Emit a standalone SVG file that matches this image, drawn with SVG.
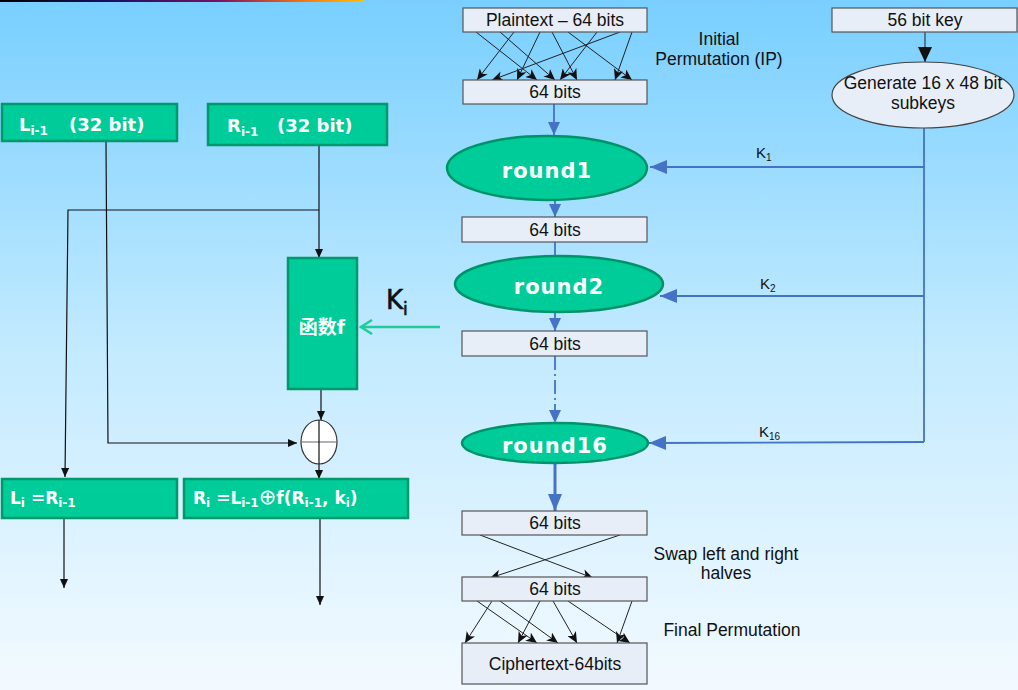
<svg xmlns="http://www.w3.org/2000/svg" width="1018" height="690" viewBox="0 0 1018 690">
<defs>
<linearGradient id="bg" x1="0" y1="0" x2="0" y2="1">
<stop offset="0" stop-color="#78cfff"/>
<stop offset="0.5" stop-color="#c2eaff"/>
<stop offset="1" stop-color="#f3faff"/>
</linearGradient>
<linearGradient id="topline" x1="0" y1="0" x2="1" y2="0">
<stop offset="0" stop-color="#000000"/>
<stop offset="0.3" stop-color="#1a1060"/>
<stop offset="0.6" stop-color="#7a1060"/>
<stop offset="0.85" stop-color="#ff7a10"/>
<stop offset="1" stop-color="#ffc000"/>
</linearGradient>
<marker id="ab" markerUnits="userSpaceOnUse" markerWidth="12" markerHeight="10" refX="11" refY="5" orient="auto"><path d="M0,0 L11,5 L0,10 L3,5 Z" fill="#111"/></marker>
<marker id="as" markerUnits="userSpaceOnUse" markerWidth="10" markerHeight="8" refX="9" refY="4" orient="auto"><path d="M0,0 L9,4 L0,8 Z" fill="#111"/></marker>
<marker id="ak" markerUnits="userSpaceOnUse" markerWidth="16" markerHeight="14" refX="15" refY="7" orient="auto"><path d="M0,0 L15,7 L0,14 Z" fill="#111"/></marker>
<marker id="abl" markerUnits="userSpaceOnUse" markerWidth="14" markerHeight="12" refX="13" refY="6" orient="auto"><path d="M0,0 L13,6 L0,12 Z" fill="#4472c4"/></marker>
<marker id="abl2" markerUnits="userSpaceOnUse" markerWidth="18" markerHeight="14" refX="17" refY="7" orient="auto"><path d="M0,0 L17,7 L0,14 Z" fill="#4472c4"/></marker>
<marker id="ag" markerUnits="userSpaceOnUse" markerWidth="14" markerHeight="16" refX="12" refY="8" orient="auto"><path d="M1,1 L12,8 L1,15" fill="none" stroke="#22cc99" stroke-width="2.5"/></marker>
</defs>
<style>
.gbox{fill:#00cc99;stroke:#00996b;stroke-width:2.5}
.gell{fill:#00cc99;stroke:#00936a;stroke-width:2.5}
.wbox{fill:#e8eef8;stroke:#555;stroke-width:1.2}
.gt{font-family:"DejaVu Sans","Noto Sans CJK SC",sans-serif;font-weight:bold;fill:#fff}
.rt{font-family:"DejaVu Sans",sans-serif;font-weight:bold;fill:#fff;font-size:21px;text-anchor:middle;letter-spacing:1px}
.bt{font-family:"Liberation Sans",Arial,sans-serif;font-size:17.5px;fill:#111;text-anchor:middle}
.kt{font-family:"Liberation Sans",Arial,sans-serif;font-size:15px;fill:#111}
.bl{stroke:#111;stroke-width:1.2;fill:none}
.pl{stroke:#222;stroke-width:1;fill:none}
.blue{stroke:#4472c4;stroke-width:1.8;fill:none}
</style>
<rect x="0" y="0" width="1018" height="690" fill="url(#bg)"/>
<rect x="0" y="0" width="363" height="2" fill="url(#topline)"/>

<g id="connectors">
<path class="bl" d="M106,142 L108,443 L297,443" marker-end="url(#as)"/>
<path class="bl" d="M319,146 L319,258" marker-end="url(#as)"/>
<path class="bl" d="M319,210 L68,210 L65,477" marker-end="url(#as)"/>
<path class="bl" d="M321,389 L321,420" marker-end="url(#as)"/>
<path class="bl" d="M319,464 L319,479" marker-end="url(#as)"/>
<path class="bl" d="M64,518 L64,588" marker-end="url(#as)"/>
<path class="bl" d="M320,518 L320,605" marker-end="url(#as)"/>
<path d="M440,327 L361,327" stroke="#22cc99" stroke-width="2.5" fill="none" marker-end="url(#ag)"/>
<path class="pl" d="M476,32 L537,80" marker-end="url(#ab)"/>
<path class="pl" d="M500,32 L555,80" marker-end="url(#ab)"/>
<path class="pl" d="M514,32 L477,80" marker-end="url(#ab)"/>
<path class="pl" d="M540,32 L517,80" marker-end="url(#ab)"/>
<path class="pl" d="M552,32 L577,80" marker-end="url(#ab)"/>
<path class="pl" d="M568,32 L632,80" marker-end="url(#ab)"/>
<path class="pl" d="M597,32 L560,80" marker-end="url(#ab)"/>
<path class="pl" d="M620,32 L492,80" marker-end="url(#ab)"/>
<path class="pl" d="M632,32 L615,80" marker-end="url(#ab)"/>
<path class="pl" d="M925,32 L925,62" marker-end="url(#ak)"/>
<path class="blue" d="M924,128 L924,442"/>
<path class="blue" d="M924,167 L650,167" marker-end="url(#abl2)"/>
<path class="blue" d="M924,296 L660,296" marker-end="url(#abl2)"/>
<path class="blue" d="M924,442 L649,443" marker-end="url(#abl2)"/>
<path class="blue" d="M554,104 L554,135" marker-end="url(#abl)"/>
<path class="blue" d="M555,200 L555,217" marker-end="url(#abl)"/>
<path class="blue" d="M555,242 L555,256"/>
<path class="blue" d="M555,312 L555,331" marker-end="url(#abl)"/>
<path class="blue" d="M555,356 L555,423" stroke-dasharray="14,4,2,4" marker-end="url(#abl)"/>
<path d="M555,463 L555,511" stroke="#4472c4" stroke-width="3" fill="none" marker-end="url(#abl2)"/>
<path class="pl" d="M480,535 L593,578" marker-end="url(#ab)"/>
<path class="pl" d="M620,535 L490,578" marker-end="url(#ab)"/>
<path class="pl" d="M477,601 L537,643" marker-end="url(#ab)"/>
<path class="pl" d="M500,601 L558,643" marker-end="url(#ab)"/>
<path class="pl" d="M492,601 L465,643" marker-end="url(#ab)"/>
<path class="pl" d="M540,601 L518,643" marker-end="url(#ab)"/>
<path class="pl" d="M553,601 L577,643" marker-end="url(#ab)"/>
<path class="pl" d="M568,601 L630,643" marker-end="url(#ab)"/>
<path class="pl" d="M632,601 L617,643" marker-end="url(#ab)"/>
</g>

<g id="L_prev">
<rect class="gbox" x="2" y="104" width="175" height="37"/>
<text class="gt" x="19" y="131" font-size="18">L<tspan font-size="12" dy="4">i-1</tspan><tspan x="69" dy="-4">(32 bit)</tspan></text>
</g>
<g id="R_prev">
<rect class="gbox" x="208" y="104" width="179" height="41"/>
<text class="gt" x="227" y="132" font-size="18">R<tspan font-size="12" dy="4">i-1</tspan><tspan x="277" dy="-4">(32 bit)</tspan></text>
</g>
<g id="func_f">
<rect class="gbox" x="288" y="258" width="69" height="131"/>
<text class="gt" x="322" y="334" font-size="19" text-anchor="middle">函数f</text>
</g>
<g id="xor">
<ellipse cx="319" cy="442" rx="18" ry="22" fill="#fff" stroke="#333" stroke-width="1.2"/>
<line x1="301" y1="442" x2="337" y2="442" stroke="#666" stroke-width="1.2"/>
<line x1="319" y1="420" x2="319" y2="464" stroke="#111" stroke-width="1.2"/>
</g>
<g id="Ki">
<text x="386" y="309" font-family="'DejaVu Sans',sans-serif" font-size="26" fill="#111" stroke="#111" stroke-width="0.6">K<tspan font-size="17" dy="6">i</tspan></text>
</g>
<g id="L_i">
<rect class="gbox" x="2" y="479" width="175" height="39"/>
<text class="gt" x="10" y="504" font-size="17">L<tspan font-size="12" dy="3">i</tspan><tspan dy="-3"> =R</tspan><tspan font-size="12" dy="3">i-1</tspan></text>
</g>
<g id="R_i">
<rect class="gbox" x="184" y="479" width="224" height="39"/>
<text class="gt" x="193" y="504" font-size="17">R<tspan font-size="12" dy="3">i</tspan><tspan dy="-3"> =L</tspan><tspan font-size="12" dy="3">i-1</tspan><tspan dy="-3" font-size="21" font-weight="normal">⊕</tspan><tspan>f(R</tspan><tspan font-size="12" dy="3">i-1</tspan><tspan dy="-3">, k</tspan><tspan font-size="12" dy="3">i</tspan><tspan dy="-3">)</tspan></text>
</g>

<g id="plaintext">
<rect class="wbox" x="463" y="8" width="184" height="24"/>
<text class="bt" x="555" y="26">Plaintext – 64 bits</text>
</g>
<g id="ip_label">
<text class="bt" x="719" y="45">Initial</text>
<text class="bt" x="719" y="65">Permutation (IP)</text>
</g>
<g id="bits1">
<rect class="wbox" x="463" y="80" width="184" height="24"/>
<text class="bt" x="555" y="98">64 bits</text>
</g>
<g id="key">
<rect class="wbox" x="832" y="8" width="185" height="24"/>
<text class="bt" x="925" y="26">56 bit key</text>
</g>
<g id="subkeys">
<ellipse cx="923" cy="95" rx="91" ry="33" fill="#e8eef8" stroke="#444" stroke-width="1.2"/>
<text class="bt" x="923" y="89">Generate 16 x 48 bit</text>
<text class="bt" x="923" y="109">subkeys</text>
</g>
<g id="round1">
<ellipse class="gell" cx="547" cy="168" rx="100" ry="32"/>
<text class="rt" x="547" y="178">round1</text>
</g>
<g id="bits2">
<rect class="wbox" x="462" y="217" width="185" height="25"/>
<text class="bt" x="555" y="236">64 bits</text>
</g>
<g id="round2">
<ellipse class="gell" cx="559" cy="284" rx="104" ry="28"/>
<text class="rt" x="559" y="294">round2</text>
</g>
<g id="bits3">
<rect class="wbox" x="462" y="331" width="185" height="25"/>
<text class="bt" x="555" y="350">64 bits</text>
</g>
<g id="round16">
<ellipse class="gell" cx="555" cy="443" rx="93" ry="20"/>
<text class="rt" x="555" y="453">round16</text>
</g>
<g id="klabels">
<text class="kt" x="756" y="158">K<tspan font-size="10" dy="3">1</tspan></text>
<text class="kt" x="760" y="289">K<tspan font-size="10" dy="3">2</tspan></text>
<text class="kt" x="759" y="437">K<tspan font-size="10" dy="3">16</tspan></text>
</g>
<g id="bits4">
<rect class="wbox" x="462" y="511" width="185" height="24"/>
<text class="bt" x="555" y="529">64 bits</text>
</g>
<g id="swap_label">
<text class="bt" x="726" y="560">Swap left and right</text>
<text class="bt" x="726" y="579">halves</text>
</g>
<g id="bits5">
<rect class="wbox" x="462" y="577" width="185" height="24"/>
<text class="bt" x="555" y="595">64 bits</text>
</g>
<g id="fp_label">
<text class="bt" x="732" y="636">Final Permutation</text>
</g>
<g id="ciphertext">
<rect class="wbox" x="462" y="643" width="185" height="41"/>
<text class="bt" x="555" y="670">Ciphertext-64bits</text>
</g>
</svg>
